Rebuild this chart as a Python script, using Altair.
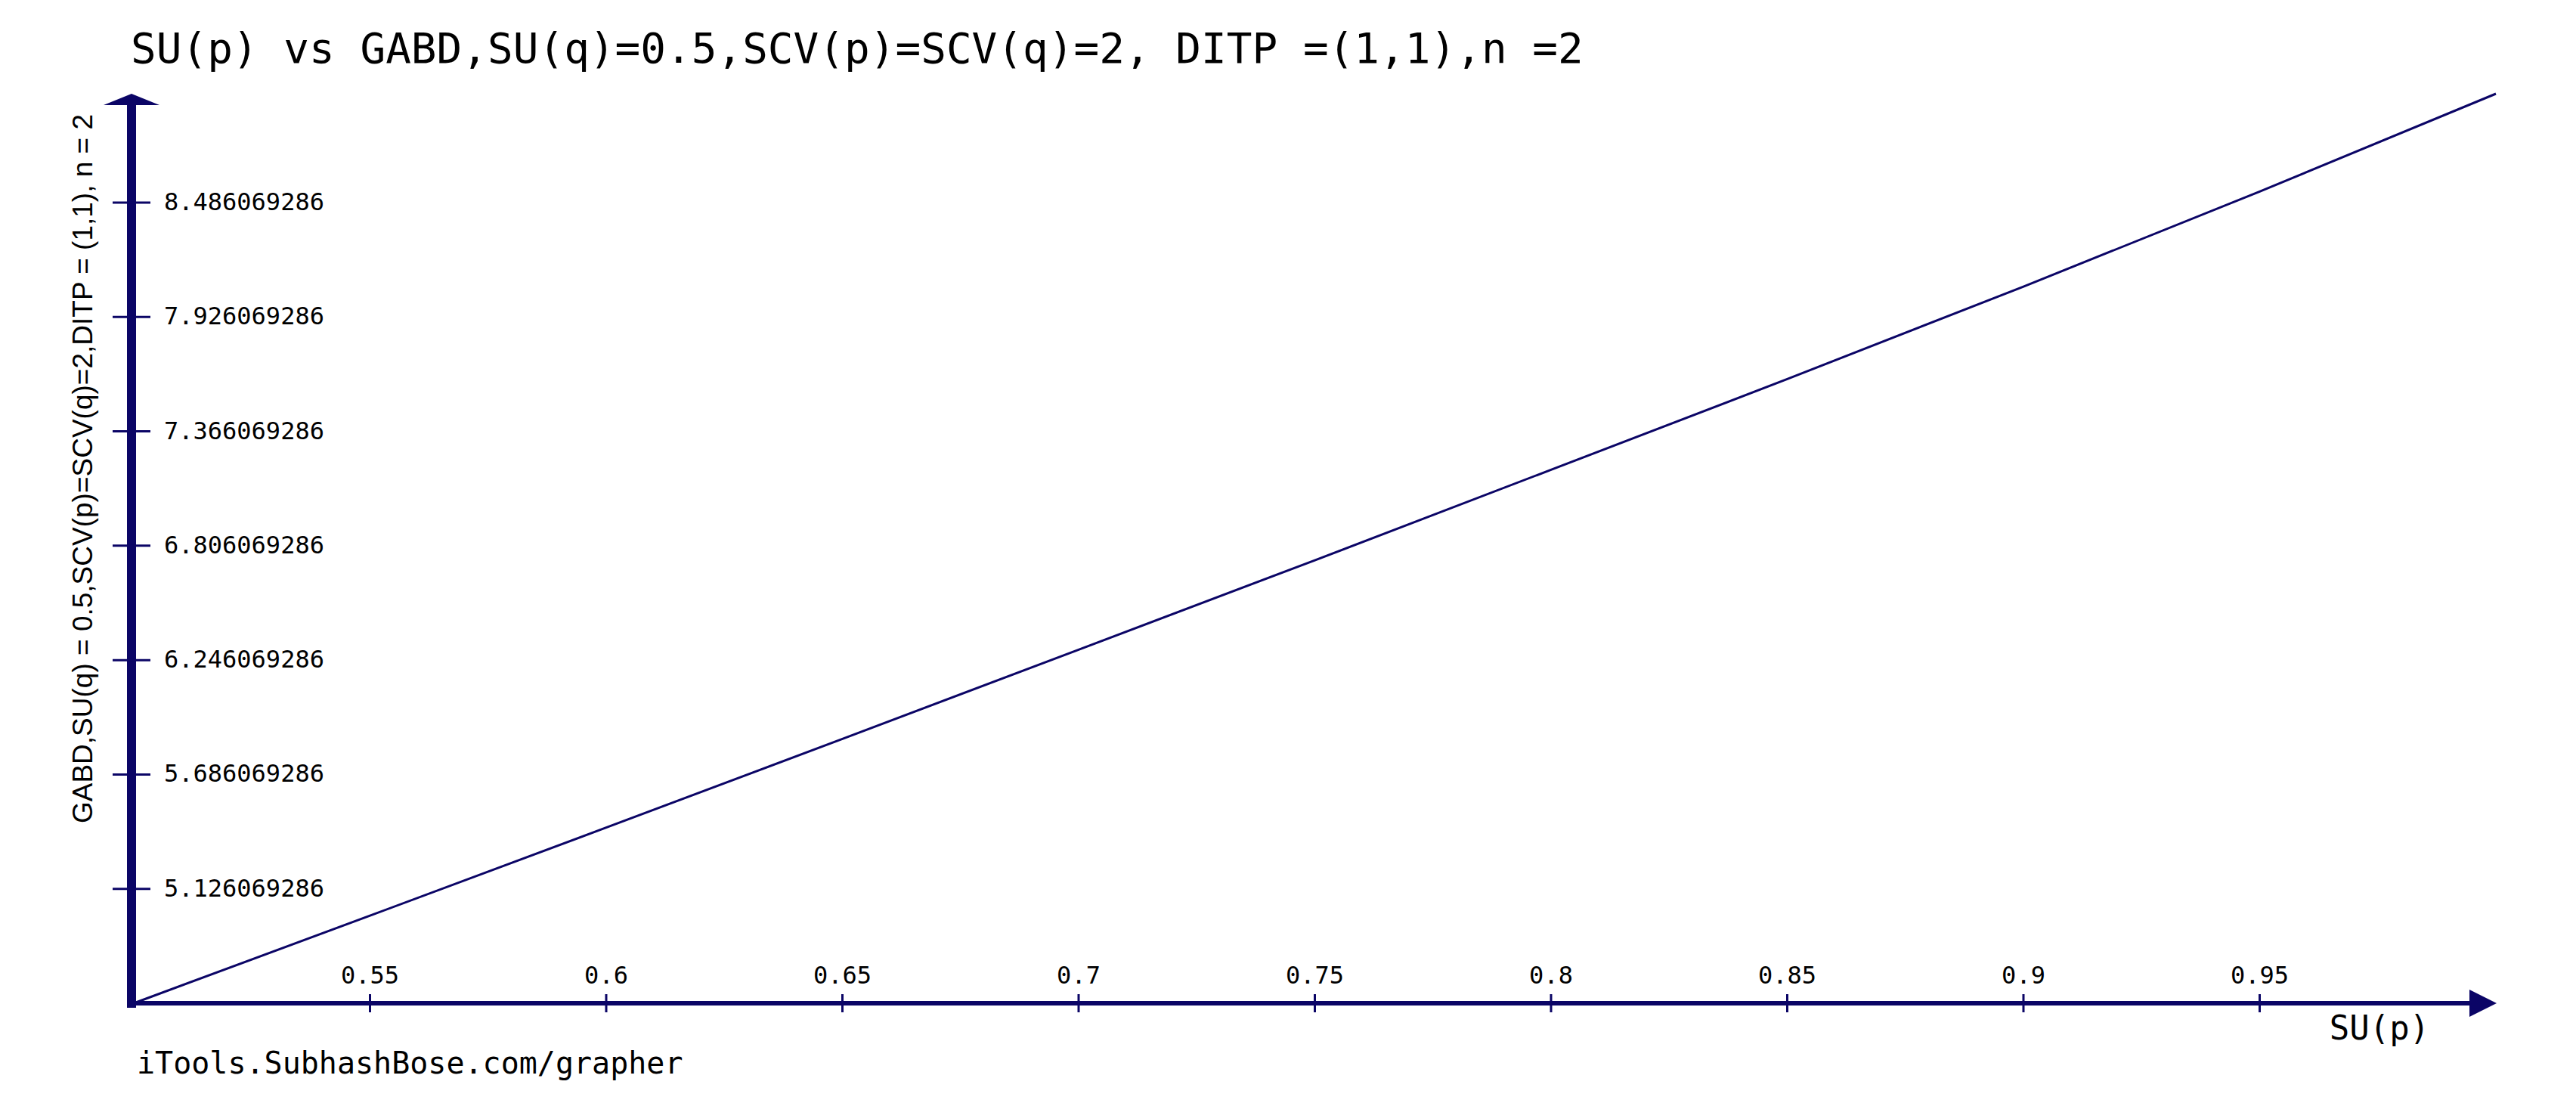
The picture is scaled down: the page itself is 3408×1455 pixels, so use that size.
import altair as alt
import pandas as pd

# ---- data ----
su_p = [0.5, 0.55, 0.6, 0.65, 0.7, 0.75, 0.8, 0.85, 0.9, 0.95, 1.0]
gabd = [4.566069286, 4.995, 5.426, 5.860, 6.297, 6.735, 7.178, 7.622, 8.075, 8.540, 9.019]

y_ticks = [5.126069286, 5.686069286, 6.246069286, 6.806069286,
           7.366069286, 7.926069286, 8.486069286]
y_tick_labels = ["5.126069286", "5.686069286", "6.246069286", "6.806069286",
                 "7.366069286", "7.926069286", "8.486069286"]
x_ticks = [0.55, 0.6, 0.65, 0.7, 0.75, 0.8, 0.85, 0.9, 0.95]
x_tick_labels = ["0.55", "0.6", "0.65", "0.7", "0.75", "0.8", "0.85", "0.9", "0.95"]

X_MIN, X_MAX = 0.5, 1.0
Y_MIN, Y_MAX = 4.566069286, 9.019

TITLE = "SU(p)  vs GABD,SU(q)=0.5,SCV(p)=SCV(q)=2, DITP =(1,1),n =2"
Y_TITLE = "GABD,SU(q) = 0.5,SCV(p)=SCV(q)=2,DITP = (1,1), n = 2"
X_TITLE = "SU(p)"
FOOTER = "iTools.SubhashBose.com/grapher"

NAVY = "#0b0566"
MONO = "DejaVu Sans Mono"

# ---- tables ----
df = pd.DataFrame({"su_p": su_p, "gabd": gabd})
ytk = pd.DataFrame({"v": y_ticks, "lab": y_tick_labels})
xtk = pd.DataFrame({"v": x_ticks, "lab": x_tick_labels})
one = pd.DataFrame({"k": [0]})

xs = alt.Scale(domain=[X_MIN, X_MAX], nice=False, zero=False)
ys = alt.Scale(domain=[Y_MIN, Y_MAX], nice=False, zero=False)

line = alt.Chart(df).mark_line(color=NAVY, strokeWidth=3).encode(
    x=alt.X("su_p:Q", scale=xs, axis=None),
    y=alt.Y("gabd:Q", scale=ys, axis=None),
)

y_axis = alt.Chart(one).mark_rule(color=NAVY, strokeWidth=12, xOffset=-3,
                                  yOffset=6, y2Offset=10).encode(
    x=alt.XDatum(X_MIN, scale=xs, axis=None),
    y=alt.YDatum(Y_MIN, scale=ys, axis=None),
    y2=alt.datum(Y_MAX),
)

x_axis = alt.Chart(one).mark_rule(color=NAVY, strokeWidth=6, xOffset=-9,
                                  x2Offset=-30).encode(
    x=alt.XDatum(X_MIN, scale=xs, axis=None),
    x2=alt.datum(X_MAX),
    y=alt.YDatum(Y_MIN, scale=ys, axis=None),
)

y_arrow = alt.Chart(one).mark_point(
    shape="M-1,0.405L0,0L1,0.405Z", size=5476, filled=True, opacity=1,
    color=NAVY, xOffset=-3, strokeWidth=0
).encode(
    x=alt.XDatum(X_MIN, scale=xs, axis=None),
    y=alt.YDatum(Y_MAX, scale=ys, axis=None),
)

x_arrow = alt.Chart(one).mark_point(
    shape="M-1,-0.5L0,0L-1,0.5Z", size=5184, filled=True, opacity=1,
    color=NAVY, xOffset=1, strokeWidth=0
).encode(
    x=alt.XDatum(X_MAX, scale=xs, axis=None),
    y=alt.YDatum(Y_MIN, scale=ys, axis=None),
)

y_tick_marks = alt.Chart(ytk).mark_rule(color=NAVY, strokeWidth=3).encode(
    y=alt.Y("v:Q", scale=ys, axis=None),
    x=alt.value(-28),
    x2=alt.value(22),
)

x_tick_marks = alt.Chart(xtk).mark_rule(color=NAVY, strokeWidth=3,
                                        yOffset=-12, y2Offset=12).encode(
    x=alt.X("v:Q", scale=xs, axis=None),
    y=alt.YDatum(Y_MIN, scale=ys, axis=None),
    y2=alt.datum(Y_MIN),
)

y_labels = alt.Chart(ytk).mark_text(align="left", baseline="middle", font=MONO,
                                    fontSize=32, color="black").encode(
    y=alt.Y("v:Q", scale=ys, axis=None),
    x=alt.value(40),
    text="lab:N",
)

x_labels = alt.Chart(xtk).mark_text(align="center", baseline="middle", font=MONO,
                                    fontSize=32, color="black", yOffset=-36).encode(
    x=alt.X("v:Q", scale=xs, axis=None),
    y=alt.YDatum(Y_MIN, scale=ys, axis=None),
    text="lab:N",
)

title = alt.Chart(one).mark_text(
    text=TITLE, align="left", baseline="alphabetic", font=MONO,
    fontSize=56, color="black"
).encode(x=alt.value(-4), y=alt.value(-41))

y_title = alt.Chart(one).mark_text(
    text=Y_TITLE, angle=270, align="center", baseline="alphabetic",
    font="Liberation Sans Narrow, Liberation Sans, sans-serif", fontSize=37,
    color="black"
).encode(x=alt.value(-55), y=alt.value(496))

x_title = alt.Chart(one).mark_text(
    text=X_TITLE, align="center", baseline="alphabetic", font=MONO,
    fontSize=44, color="black"
).encode(x=alt.value(2971), y=alt.value(1251))

footer = alt.Chart(one).mark_text(
    text=FOOTER, align="left", baseline="alphabetic", font=MONO,
    fontSize=40, color="black"
).encode(x=alt.value(4), y=alt.value(1296))

chart = alt.layer(
    x_axis, y_axis, y_tick_marks, x_tick_marks, line, y_arrow, x_arrow,
    y_labels, x_labels, title, y_title, x_title, footer
).properties(
    width=3125,
    height=1203,
    padding={"left": 169, "top": 116, "right": 98, "bottom": 110},
    autosize=alt.AutoSizeParams(type="none"),
).configure(background="white").configure_view(stroke=None)

chart.save("out.html", embed_options={"renderer": "svg", "actions": False})
